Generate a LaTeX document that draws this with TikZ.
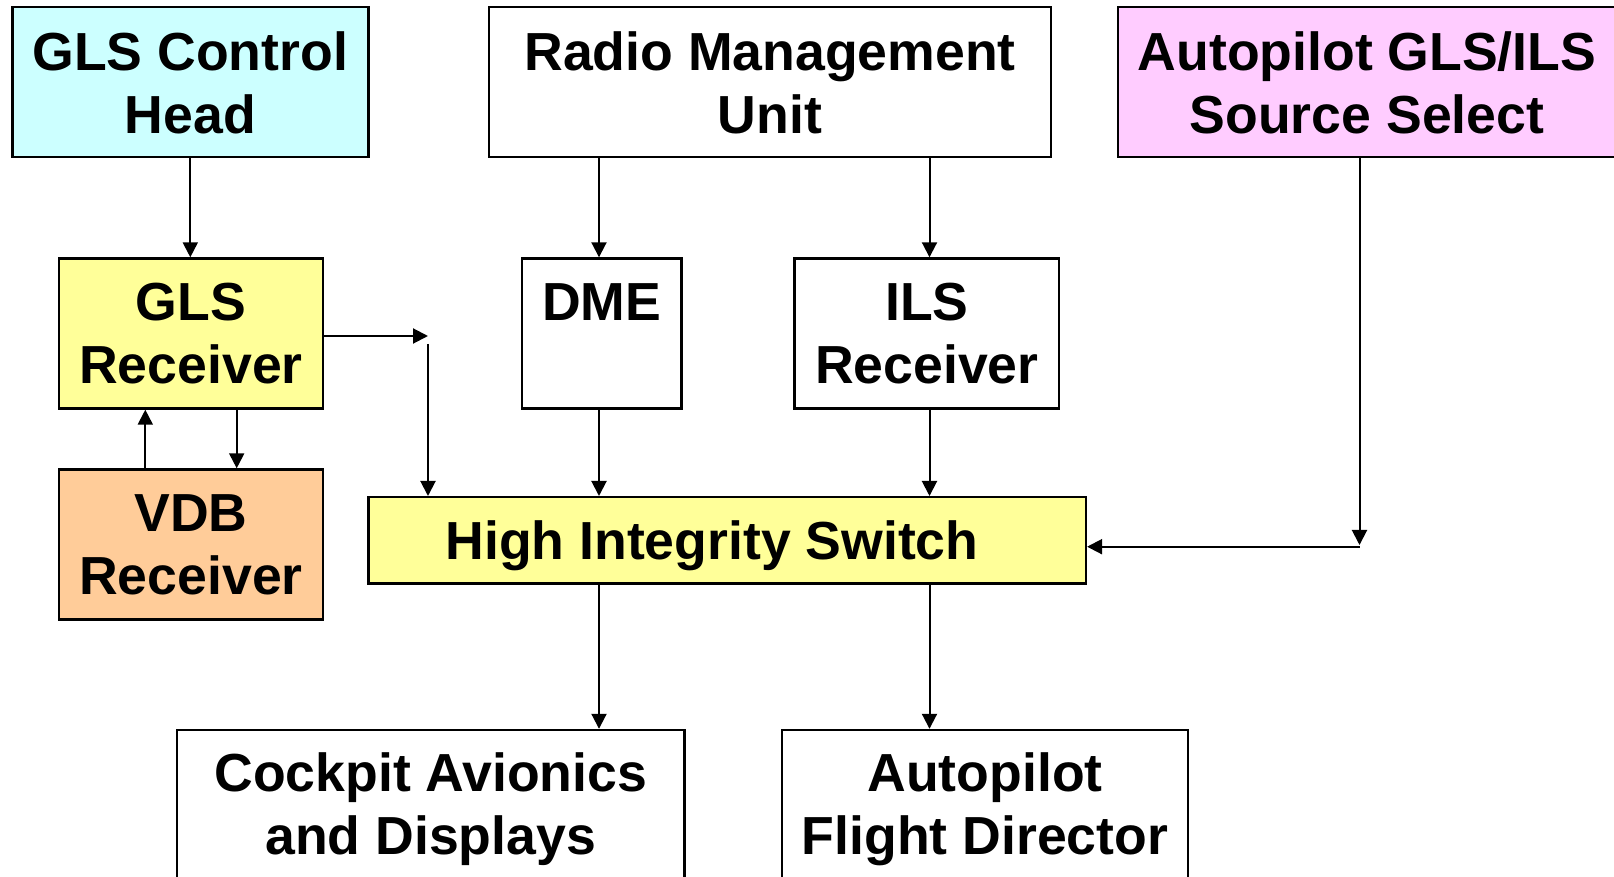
\documentclass[tikz,border=0pt]{standalone}
\usepackage{fontspec}
\setmainfont{Liberation Sans}
\usetikzlibrary{arrows.meta}
\definecolor{cyanbox}{HTML}{CCFFFF}
\definecolor{pinkbox}{HTML}{FFCCFF}
\definecolor{yellowbox}{HTML}{FFFF99}
\definecolor{orangebox}{HTML}{FFCC99}
\begin{document}
\begin{tikzpicture}[x=0.5pt,y=-0.5pt,
  box/.style={draw=black,line width=1.2pt,inner sep=0pt,align=center,
    font=\fontsize{26.8}{31.7}\selectfont\bfseries},
  tallbox/.style={box,minimum height=75pt,text depth=-2pt},
  arr/.style={line width=1pt,-{Triangle[length=7.5pt,width=7.5pt]}}]
\useasboundingbox (0,0) rectangle (1614,877);
\clip (0,0) rectangle (1614,877);
\fill[white] (0,0) rectangle (1614,877);
% boxes
\node[tallbox,fill=cyanbox,minimum width=178pt] (gch) at (190.3,82.3) {GLS Control\\Head};
\node[tallbox,fill=white,minimum width=281pt] (rmu) at (770,82.3) {Radio Management\\Unit};
\node[tallbox,fill=pinkbox,minimum width=249pt] (aps) at (1367,82.3) {Autopilot GLS/ILS\\Source Select};
\node[tallbox,fill=yellowbox,minimum width=132.25pt] (glsr) at (191,333.5) {GLS\\Receiver};
\node[tallbox,fill=white,minimum width=79.75pt] (dme) at (601.7,333.5) {DME\\\mbox{}};
\node[tallbox,fill=white,minimum width=132.3pt] (ilsr) at (926.9,333.5) {ILS\\Receiver};
\node[tallbox,fill=orangebox,minimum width=132.25pt] (vdb) at (191,544.5) {VDB\\Receiver};
\node[box,fill=yellowbox,minimum width=358.7pt,minimum height=43.2pt,text depth=0pt] (his) at (727.2,540.4) {High Integrity Switch\hspace{15.2pt}\mbox{}};
\node[tallbox,fill=white,minimum width=253.75pt,text depth=1.6pt] (cad) at (430.75,805) {Cockpit Avionics\\and Displays};
\node[tallbox,fill=white,minimum width=202.75pt,text depth=1.6pt] (afd) at (985,805) {Autopilot\\Flight Director};
% connectors
\coordinate (xa) at (599,0);
\coordinate (xb) at (929.5,0);
\coordinate (xu) at (145.3,0);
\coordinate (xd) at (236.7,0);
\coordinate (gtip) at (428,336);
\coordinate (gdrop) at (428,344);
\coordinate (atip) at (1359.5,545);
\coordinate (ajoin) at (1359.5,546.7);
\draw[arr] (gch.south) -- (gch.south |- glsr.north);
\draw[arr] (xa |- rmu.south) -- (xa |- dme.north);
\draw[arr] (xb |- rmu.south) -- (xb |- ilsr.north);
\draw[arr] (xa |- dme.south) -- (xa |- his.north);
\draw[arr] (xb |- ilsr.south) -- (xb |- his.north);
\draw[arr] (xa |- his.south) -- (xa |- cad.north);
\draw[arr] (xb |- his.south) -- (xb |- afd.north);
\draw[arr] (gtip -| glsr.east) -- (gtip);
\draw[arr] (gdrop) -- (gdrop |- his.north);
\draw[arr] (xu |- vdb.north) -- (xu |- glsr.south);
\draw[arr] (xd |- glsr.south) -- (xd |- vdb.north);
\draw[arr] (atip |- aps.south) -- (atip);
\draw[arr] (ajoin) -- (ajoin -| his.east);
\end{tikzpicture}
\end{document}
